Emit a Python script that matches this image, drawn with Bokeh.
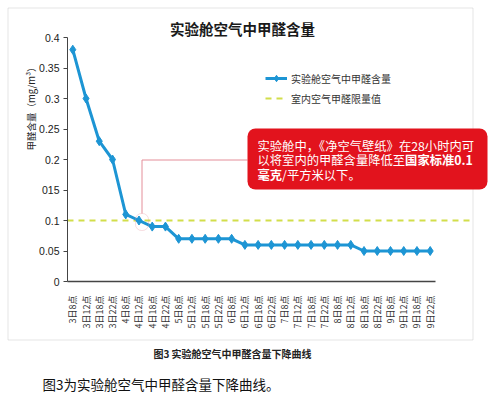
import math
from bokeh.plotting import figure
from bokeh.models import (Range1d, FixedTicker, Label, BoxAnnotation, Legend,
                          LegendItem)
from bokeh.embed import file_html
from bokeh.resources import INLINE

# ---------------- data ----------------
categories = ["3日8点", "3日12点", "3日18点", "3日22点",
              "4日8点", "4日12点", "4日18点", "4日22点",
              "5日8点", "5日12点", "5日18点", "5日22点",
              "6日8点", "6日12点", "6日18点", "6日22点",
              "7日8点", "7日12点", "7日18点", "7日22点",
              "8日8点", "8日12点", "8日18点", "8日22点",
              "9日8点", "9日12点", "9日18点", "9日22点"]
values = [0.38, 0.30, 0.23, 0.20,
          0.11, 0.10, 0.09, 0.09,
          0.07, 0.07, 0.07, 0.07,
          0.07, 0.06, 0.06, 0.06,
          0.06, 0.06, 0.06, 0.06,
          0.06, 0.06, 0.05, 0.05,
          0.05, 0.05, 0.05, 0.05]
limit_value = 0.1
y_ticks = [0, 0.05, 0.1, 0.15, 0.2, 0.25, 0.3, 0.35, 0.4]
y_tick_labels = ["0", "0.05", "0.1", "015", "0.2", "0.25", "0.3", "0.35", "0.4"]
series_name = "实验舱空气中甲醛含量"
limit_name = "室内空气甲醛限量值"
title_text = "实验舱空气中甲醛含量"
y_label_text = "甲醛含量（mg/m³）"
caption_small = "图3 实验舱空气中甲醛含量下降曲线"
caption_big = "图3为实验舱空气中甲醛含量下降曲线。"

FONT = "Noto Sans CJK SC"
BLUE = "#1d95d4"
LIMIT = "#d2de4a"
RED = "#e2131d"
PINK = "#e48e99"

# ---------------- layout (canvas px) ----------------
W, H = 500, 397
AX_L, AX_R = 67, 435        # x axis extent on the canvas
AX_T, AX_B = 37, 281        # y axis extent on the canvas (0.4 .. 0)
LIMIT_R = 473               # right end of the limit line
y_max = y_ticks[-1]
x_idx = list(range(len(categories)))
x_first = -0.4
x_last = len(categories) - 1 + 0.4
ppx = (AX_R - AX_L) / (x_last - x_first)     # pixels per category
ppy = (AX_B - AX_T) / y_max                  # pixels per unit of y
x_lo = x_first - AX_L / ppx
x_hi = x_first + (W - AX_L) / ppx
y_hi = AX_B / ppy
y_lo = -(H - AX_B) / ppy
x_limit_end = x_first + (LIMIT_R - AX_L) / ppx

p = figure(width=W, height=H, output_backend="svg", toolbar_location=None,
           x_range=Range1d(x_lo, x_hi), y_range=Range1d(y_lo, y_hi),
           min_border=0)
p.outline_line_color = None
p.xgrid.visible = False
p.ygrid.visible = False
p.background_fill_color = "white"
p.border_fill_color = "white"

p.extra_x_ranges = {"px": Range1d(0, W)}
p.extra_y_ranges = {"px": Range1d(H, 0)}

# axes (drawn inside the frame at fixed locations)
xa = p.xaxis[0]
xa.fixed_location = 0
xa.ticker = FixedTicker(ticks=x_idx)
xa.major_label_overrides = {i: c for i, c in zip(x_idx, categories)}
xa.major_label_orientation = math.pi / 2
xa.bounds = (x_first, x_last)
xa.major_tick_line_color = None
xa.minor_tick_line_color = None
xa.axis_line_color = "#444444"
xa.axis_line_width = 1.5
xa.major_label_standoff = 8
xa.major_label_text_font = FONT
xa.major_label_text_font_size = "9px"
xa.major_label_text_color = "#333333"

ya = p.yaxis[0]
ya.fixed_location = x_first
ya.ticker = FixedTicker(ticks=y_ticks)
ya.major_label_overrides = {t: l for t, l in zip(y_ticks, y_tick_labels)}
ya.bounds = (0, y_max)
ya.minor_tick_line_color = None
ya.major_tick_in = 0
ya.major_tick_out = 4
ya.major_tick_line_color = "#444444"
ya.axis_line_color = "#444444"
ya.major_label_standoff = 4
ya.major_label_text_font = "Liberation Sans"
ya.major_label_text_font_size = "10.5px"
ya.major_label_text_color = "#222222"

# data
limit_r = p.line(x=[x_first, x_limit_end], y=[limit_value, limit_value],
                 line_color=LIMIT, line_width=2, line_dash="6 5")
line_r = p.line(x=x_idx, y=values, line_color=BLUE, line_width=3)
scat_r = p.scatter(x=x_idx, y=values, marker="diamond", size=9,
                   fill_color=BLUE, line_color=BLUE)

legend = Legend(items=[LegendItem(label=series_name, renderers=[line_r, scat_r]),
                       LegendItem(label=limit_name, renderers=[limit_r])],
                location=(265, H - 106), glyph_width=22, glyph_height=16,
                label_height=16, spacing=4, padding=0, margin=0,
                border_line_color=None, background_fill_alpha=0,
                label_text_font=FONT, label_text_font_size="10px",
                label_text_color="#333333", label_standoff=4)
p.add_layout(legend)


def lbl(text, x, y, size, bold=False, color="#222222", align="left", angle=0):
    return Label(x=x, y=y, x_range_name="px", y_range_name="px",
                 text=text, text_font=FONT, text_font_size=f"{size}px",
                 text_font_style="bold" if bold else "normal",
                 text_color=color, text_align=align, text_baseline="middle",
                 angle=angle)


def box(l, r, t, b, **kw):
    return BoxAnnotation(left=l, right=r, top=t, bottom=b,
                         x_range_name="px", y_range_name="px", **kw)


# outer frame
p.add_layout(box(7.5, 472.5, 7.5, 339.5, fill_alpha=0, line_color="#a8a8a8",
                 line_width=1))

# title and y label
p.add_layout(lbl(title_text, 242, 28, 14.5, bold=True, color="#1a1a1a", align="center"))
p.add_layout(lbl(y_label_text, 30, 106, 9.5, color="#222222", align="center",
                 angle=math.pi / 2))

# connector
p.line(x=[141.5, 141.5, 247], y=[213, 159.5, 159.5],
       x_range_name="px", y_range_name="px", line_color=PINK, line_width=1)
p.add_layout(box(135, 148, 213, 230, fill_alpha=0, line_color=PINK,
                 line_width=1, border_radius=6))

# callout
p.add_layout(box(247, 487, 128, 189, fill_color=RED, fill_alpha=1,
                 line_color=None, border_radius=8))
fs = 12.3
x0 = 257
p.add_layout(lbl("实验舱中，《净空气壁纸》在28小时内可", x0, 145, fs, color="white"))
p.add_layout(lbl("以将室内的甲醛含量降低至", x0, 159.5, fs, color="white"))
p.add_layout(lbl("国家标准0.1", x0 + 12 * fs, 159.5, fs, bold=True, color="white"))
p.add_layout(lbl("毫克", x0, 174, fs, bold=True, color="white"))
p.add_layout(lbl("/平方米以下。", x0 + 2 * fs, 174, fs, color="white"))

# captions
p.add_layout(lbl(caption_small, 232, 353, 10, bold=True, color="#222222", align="center"))
p.add_layout(lbl(caption_big, 42, 383, 13.5, color="#111111"))

open("out.html", "w").write(file_html(p, INLINE))
